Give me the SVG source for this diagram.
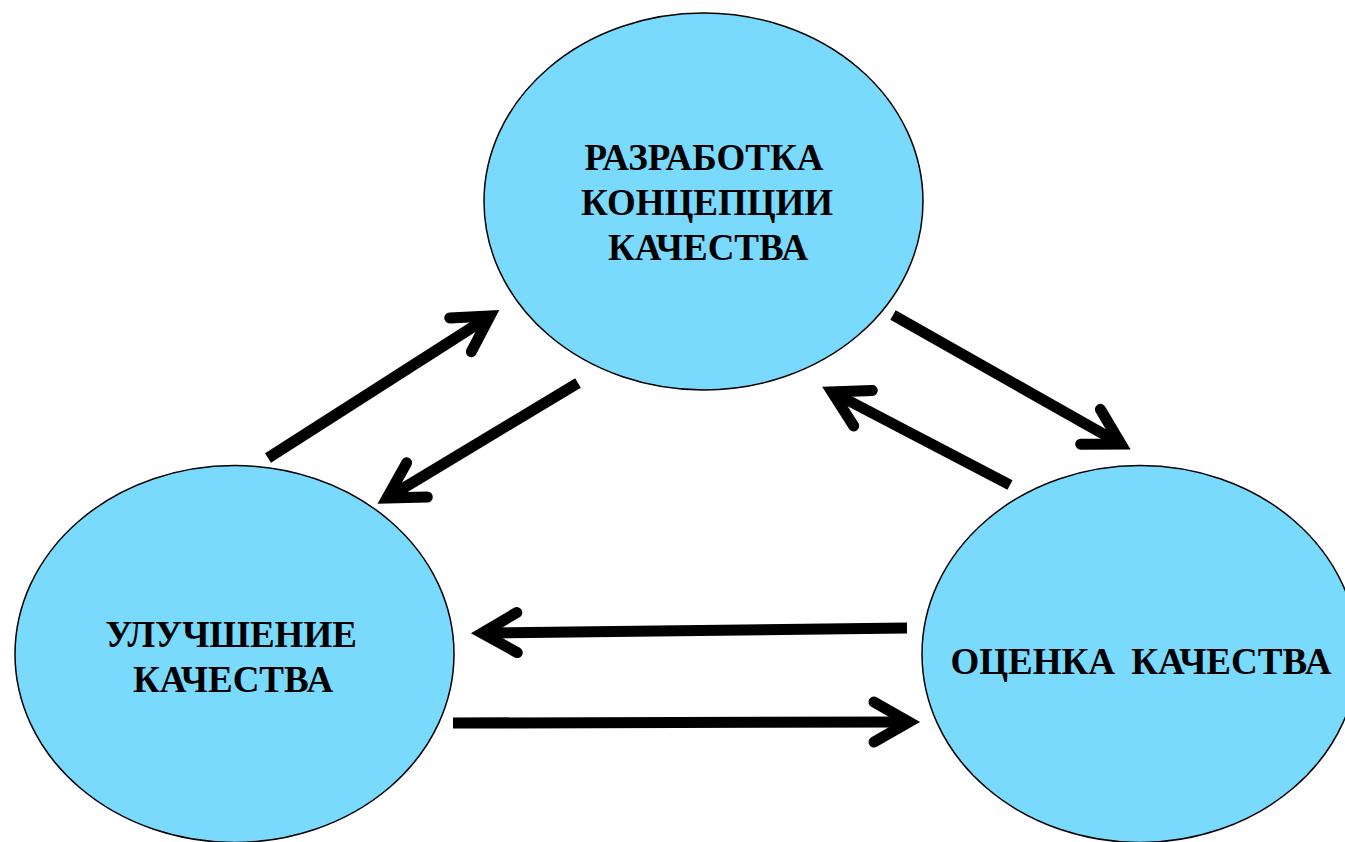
<svg xmlns="http://www.w3.org/2000/svg" width="1345" height="842" viewBox="0 0 1345 842">
  <style>
    .node { fill: #79dafd; stroke: #000; stroke-width: 1.5; }
    .label { font-family: "Liberation Serif", "Times New Roman", serif; font-weight: bold; font-size: 37px; fill: #000; text-anchor: middle; }
    .conn { stroke: #000; stroke-width: 11; stroke-linecap: butt; fill: none; marker-end: url(#chev); }
  </style>
  <defs>
    <marker id="chev" markerUnits="userSpaceOnUse" orient="auto" refX="0" refY="0" markerWidth="80" markerHeight="80" viewBox="-50 -40 80 80" overflow="visible">
      <path d="M-35,-20 L0,0 L-35,20" fill="none" stroke="#000" stroke-width="11" stroke-linecap="round" stroke-linejoin="miter" stroke-miterlimit="6"/>
    </marker>
  </defs>
  <rect width="1345" height="842" fill="#fff"/>
  <g id="node-razrabotka">
    <ellipse class="node" cx="703.5" cy="201.5" rx="219.5" ry="188.5"/>
    <text class="label" x="704" y="170">РАЗРАБОТКА</text>
    <text class="label" x="707" y="215">КОНЦЕПЦИИ</text>
    <text class="label" x="708" y="260">КАЧЕСТВА</text>
  </g>
  <g id="node-uluchshenie">
    <ellipse class="node" cx="234.5" cy="654" rx="219.5" ry="188.5"/>
    <text class="label" x="231" y="647">УЛУЧШЕНИЕ</text>
    <text class="label" x="233" y="692">КАЧЕСТВА</text>
  </g>
  <g id="node-otsenka">
    <ellipse class="node" cx="1140" cy="654" rx="218" ry="188.5"/>
    <text class="label" x="1141" y="674" word-spacing="7">ОЦЕНКА КАЧЕСТВА</text>
  </g>
  <g id="connectors">
    <path class="conn" d="M268,458 L490,316"/>
    <path class="conn" d="M578,383 L387,498"/>
    <path class="conn" d="M893,315 L1121,444"/>
    <path class="conn" d="M1010,485 L832,392"/>
    <path class="conn" d="M907,628 L482,633"/>
    <path class="conn" d="M453,723 L909,722"/>
  </g>
</svg>
